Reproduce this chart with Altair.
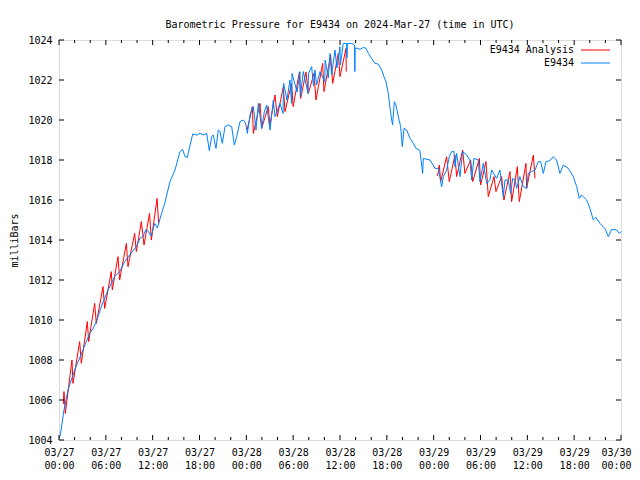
import altair as alt
import pandas as pd

# ---- data (hours since 2024-03-27 00:00 UTC, pressure in mb) ----
blue_h = [0.0, 0.17, 0.64, 1.15, 2.01, 3.07, 3.93, 4.4, 4.78, 5.42, 6.28, 7.13, 7.77, 8.41, 9.05, 9.91,
          10.4, 10.76, 11.1, 11.4, 11.8, 12.26, 12.6, 12.9, 13.2, 13.54, 13.96,
          14.22, 14.86, 15.5, 15.84, 16.14, 16.44, 16.65, 17.13, 17.64, 18.07, 18.49, 18.92, 19.26, 19.56,
          19.77, 20.11, 20.41, 20.63, 20.92, 21.27, 21.69, 22.12, 22.46, 22.76, 23.19, 23.61, 23.9,
          24.13, 24.5, 24.9, 25.24, 25.54, 25.97, 26.3, 26.6, 27.03, 27.46, 27.67, 28.31, 28.7, 28.78,
          29.2, 29.59, 29.8, 29.85, 30.5, 30.87, 30.92, 31.3, 31.9, 31.97, 32.37, 32.6, 32.8, 33.0,
          33.44, 34.05, 34.1, 34.5, 34.72, 34.93, 35.36, 35.6, 36.0, 36.05, 36.42, 36.85, 36.9, 36.95,
          37.5, 37.85, 37.9, 37.95, 38.3,
          38.56, 38.99, 39.33, 39.63, 40.05, 40.48, 40.91, 41.34, 41.63, 41.89, 42.19, 42.41, 42.62,
          42.74, 42.96, 43.17, 43.47, 43.77, 43.98, 44.2, 44.54, 44.97, 45.39, 45.73, 46.16, 46.25,
          46.59, 46.67, 47.53, 48.17, 48.6,
          49.02, 49.24, 49.66, 50.0, 50.3, 50.6, 50.73, 50.94, 51.37, 51.71, 52.22, 52.65, 52.87,
          53.16, 53.72, 53.93, 54.36, 54.79, 55.21, 55.43, 56.07, 56.49, 56.92, 57.14, 57.56, 57.86,
          58.12, 58.42, 58.63, 59.05, 59.48, 59.91, 60.12, 60.55, 60.98, 61.41, 61.7, 62.05, 62.39,
          62.9, 63.33, 63.75, 64.18, 64.61, 65.25, 65.89, 66.32, 66.66, 66.95, 67.6, 68.02, 68.45,
          68.79, 69.3, 69.94, 70.37, 70.8, 71.44, 71.78, 72.0]
blue_p = [1004.1, 1004.25, 1005.5, 1006.5, 1007.5, 1008.5, 1009.33, 1009.6, 1009.92, 1010.67, 1011.5,
          1012.17, 1012.42, 1012.92, 1013.25, 1013.67, 1014.1, 1014.17, 1014.5, 1014.45, 1014.2,
          1014.83, 1014.6, 1015.0, 1015.4, 1015.83, 1016.5,
          1016.92, 1017.5, 1018.42, 1018.53, 1018.17, 1018.13, 1018.5, 1019.3, 1019.25, 1019.33,
          1019.25, 1019.33, 1018.47, 1019.17, 1019.25, 1018.58, 1019.5, 1019.42, 1018.83, 1019.67,
          1019.75, 1019.67, 1018.75, 1019.17, 1019.92, 1020.0, 1019.85,
          1019.33, 1020.3, 1020.67, 1019.5, 1020.83, 1019.58, 1020.4, 1020.75, 1019.5, 1021.0,
          1020.17, 1020.83, 1020.33, 1021.83, 1021.0, 1022.0, 1020.83, 1022.33, 1021.4, 1022.42,
          1021.17, 1022.42, 1021.33, 1022.33, 1022.67, 1021.7, 1022.5, 1021.75, 1022.42, 1021.92,
          1023.0, 1022.1, 1023.33, 1022.25, 1023.5, 1022.6, 1023.67, 1022.75, 1023.83, 1023.83,
          1023.1, 1023.83, 1023.83, 1023.75, 1022.42, 1023.6, 1023.58,
          1023.53, 1023.63, 1023.58, 1023.33, 1023.08, 1022.83, 1022.8, 1022.5, 1022.17, 1021.92,
          1021.33, 1020.58, 1020.0, 1019.75, 1020.92, 1020.75, 1020.17, 1019.67, 1018.67, 1019.58,
          1019.5, 1019.08, 1018.83, 1018.58, 1018.5, 1018.42, 1017.33, 1018.08, 1018.0, 1017.58,
          1017.58,
          1016.67, 1017.17, 1017.5, 1018.17, 1018.42, 1018.42, 1017.67, 1018.33, 1017.17, 1018.42,
          1018.25, 1018.0, 1017.0, 1018.08, 1018.0, 1016.92, 1017.83, 1016.83, 1017.0, 1017.5,
          1017.08, 1017.5, 1016.17, 1017.0, 1017.0, 1016.33, 1017.08, 1017.0, 1016.58, 1017.17,
          1016.67, 1016.58, 1017.33, 1017.42, 1017.5, 1017.92, 1017.92, 1017.33, 1017.92, 1017.97,
          1018.17, 1018.0, 1017.33, 1017.75, 1017.58, 1017.17, 1016.67, 1016.08, 1016.25, 1016.0,
          1015.58, 1015.0, 1015.13, 1014.83, 1014.58, 1014.17, 1014.53, 1014.5, 1014.33, 1014.42]

red_h = [0.55, 0.64, 0.81, 1.66, 1.79, 2.65, 2.86, 3.63, 3.8, 4.57, 4.78, 5.64, 5.85, 6.7, 6.83, 7.56,
         7.77, 8.63, 8.84, 9.69, 9.91, 10.55, 10.89, 11.6, 11.83, 12.56, 12.77,
         24.1, 24.77, 24.9, 25.75, 25.97, 26.8, 27.03, 27.67, 27.97, 28.74, 28.95, 29.8, 30.0, 30.8,
         30.96, 31.64, 31.94, 32.67, 32.92, 33.78, 33.95, 34.8, 35.06, 35.78, 36.0, 36.77, 36.8,
         48.5, 48.72, 48.9, 49.66, 50.0, 50.73, 50.94, 51.71, 52.0, 52.74, 53.0, 53.85, 54.02, 54.7,
         55.0, 55.73, 55.98, 56.71, 57.0, 57.78, 57.99, 58.72, 58.97, 59.83, 59.91, 60.77, 60.98]
red_p = [1005.8, 1006.42, 1005.33, 1008.0, 1006.83, 1008.92, 1007.83, 1009.92, 1008.92, 1010.83,
         1009.83, 1011.67, 1010.58, 1012.42, 1011.5, 1013.17, 1012.0, 1013.83, 1012.67, 1014.33,
         1013.42, 1014.92, 1013.75, 1015.33, 1014.0, 1016.08, 1014.83,
         1019.5, 1020.67, 1019.33, 1020.83, 1019.58, 1020.67, 1019.75, 1021.25, 1020.17, 1021.67,
         1020.42, 1021.83, 1020.67, 1022.4, 1021.08, 1022.4, 1021.33, 1022.33, 1021.0, 1022.83,
         1021.42, 1023.25, 1021.83, 1023.33, 1022.17, 1023.58, 1022.42,
         1017.2, 1017.75, 1016.92, 1018.17, 1016.92, 1018.25, 1017.17, 1018.5, 1017.33, 1018.0,
         1016.92, 1018.08, 1016.75, 1017.92, 1016.17, 1017.17, 1016.42, 1017.17, 1016.0, 1017.42,
         1015.92, 1017.67, 1015.92, 1017.83, 1016.58, 1018.25, 1017.08]
red_seg = [1] * 27 + [2] * 27 + [3] * 27

x_major_h = list(range(0, 73, 6))
x_minor_h = [h for h in range(0, 73, 2) if h % 6 != 0]
y_ticks = list(range(1004, 1025, 2))

TITLE = "Barometric Pressure for E9434 on 2024-Mar-27 (time in UTC)"
LEG_RED = "E9434 Analysis"
LEG_BLUE = "E9434"
RED = "#ff0000"
BLUE = "#0080ff"
FONT = "DejaVu Sans Mono"

# ---- build tables ----
base_ms = int(pd.Timestamp("2024-03-27T00:00:00Z").value // 10**6)
H = 3600 * 1000
end_ms = base_ms + 72 * H
blue_df = pd.DataFrame({"time": [base_ms + h * H for h in blue_h], "p": blue_p})
red_df = pd.DataFrame({"time": [base_ms + h * H for h in red_h], "p": red_p, "seg": red_seg})
xmaj_df = pd.DataFrame({"time": [base_ms + h * H for h in x_major_h]})
xmin_df = pd.DataFrame({"time": [base_ms + h * H for h in x_minor_h]})
yt_df = pd.DataFrame({"p": y_ticks})
one = pd.DataFrame({"a": [0]})

W, HGT = 562, 400
xs = alt.Scale(type="utc", domain=[base_ms, end_ms])
ys = alt.Scale(domain=[1004, 1024], nice=False, zero=False)

last_test = f"datum.value >= {end_ms}"
x_axis = alt.Axis(values=[base_ms + h * H for h in x_major_h],
                  labelExpr="[utcFormat(datum.value, '%m/%d'), utcFormat(datum.value, '%H:%M')]",
                  title=None, domain=False, ticks=False, grid=False, labelPadding=7,
                  labelFont=FONT, labelFontSize=10, labelColor="black", labelLineHeight=13,
                  labelOverlap=False, labelFlush=False,
                  labelAlign={"condition": {"test": last_test, "value": "right"}, "value": "center"},
                  labelOffset={"condition": {"test": last_test, "value": 10}, "value": 0})
y_axis = alt.Axis(values=y_ticks, format="d", title="milliBars", domain=False, ticks=False,
                  grid=False, labelPadding=7, labelFont=FONT, labelFontSize=10, labelColor="black",
                  titleFont=FONT, titleFontSize=10, titleFontWeight="normal", titleColor="black",
                  titleAngle=-90, titleX=-45, titleY=200, titleAlign="center", titleBaseline="middle")

X = alt.X("time:T", scale=xs, axis=x_axis)
Y = alt.Y("p:Q", scale=ys, axis=y_axis)

red_line = alt.Chart(red_df).mark_line(color=RED, strokeWidth=1).encode(
    x=X, y=Y, detail="seg:N")
blue_line = alt.Chart(blue_df).mark_line(color=BLUE, strokeWidth=1).encode(x=X, y=Y)

def xt(df, y0, y1):
    return alt.Chart(df).mark_rule(color="black", strokeWidth=1).encode(
        x=X, y=alt.value(y0), y2=alt.value(y1))

def ytk(x0, x1):
    return alt.Chart(yt_df).mark_rule(color="black", strokeWidth=1).encode(
        y=Y, x=alt.value(x0), x2=alt.value(x1))

ticks = [xt(xmaj_df, HGT, HGT - 5), xt(xmin_df, HGT, HGT - 3),
         xt(xmaj_df, 0, 5), xt(xmin_df, 0, 3), ytk(0, 5), ytk(W, W - 5)]

title_t = alt.Chart(one).mark_text(text=TITLE, font=FONT, fontSize=10, align="center",
                                   baseline="alphabetic", color="black").encode(
    x=alt.value(W / 2), y=alt.value(-12))
leg_t1 = alt.Chart(one).mark_text(text=LEG_RED, font=FONT, fontSize=10, align="right",
                                  baseline="middle", color="black").encode(
    x=alt.value(515), y=alt.value(10))
leg_t2 = alt.Chart(one).mark_text(text=LEG_BLUE, font=FONT, fontSize=10, align="right",
                                  baseline="middle", color="black").encode(
    x=alt.value(515), y=alt.value(23))
leg_r1 = alt.Chart(one).mark_rule(color=RED, strokeWidth=1).encode(
    x=alt.value(522), x2=alt.value(551), y=alt.value(10))
leg_r2 = alt.Chart(one).mark_rule(color=BLUE, strokeWidth=1).encode(
    x=alt.value(522), x2=alt.value(551), y=alt.value(23))

chart = alt.layer(red_line, blue_line, *ticks, title_t, leg_t1, leg_t2, leg_r1, leg_r2).properties(
    width=W, height=HGT,
    autosize=alt.AutoSizeParams(type="none"),
    padding={"left": 51, "top": 32, "right": 11, "bottom": 32},
).configure_view(stroke="black", strokeWidth=1).configure(background="white")

chart.save("out.html", embed_options={"renderer": "svg", "actions": False})
